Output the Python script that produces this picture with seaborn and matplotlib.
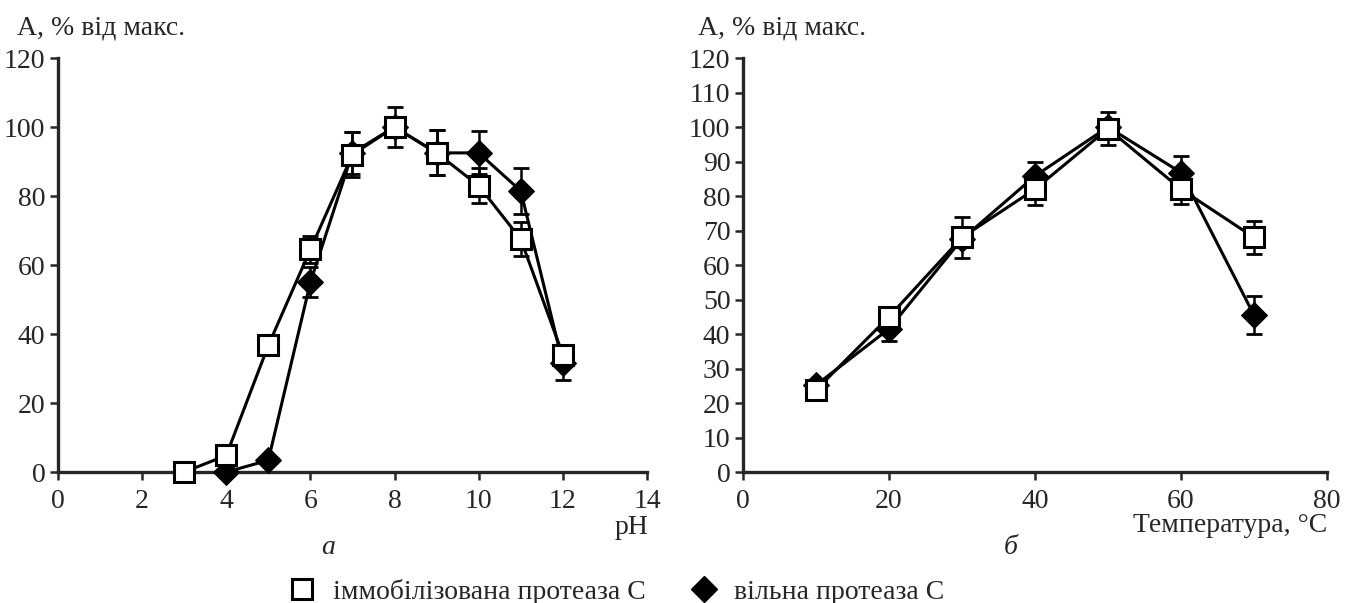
import seaborn as sns
import matplotlib.pyplot as plt
import pandas as pd
from matplotlib.lines import Line2D

##-----Data-----##
ph = [3, 4, 5, 6, 7, 8, 9, 10, 11, 12]
ph_immob = [0, 4.8, 36.7, 64.5, 92, 100, 92.5, 83, 67.5, 34]
ph_immob_err = [0, 0, 0, 4, 6.5, 5.8, 6.5, 5, 5, 0]
ph_free_x = [4, 5, 6, 7, 8, 9, 10, 11, 12]
ph_free = [0, 3.4, 55, 92.5, 100, 92.5, 92.5, 81.5, 31.5]
ph_free_err = [0, 0, 4.3, 6, 0, 6.5, 6.2, 6.7, 4.8]

temp = [10, 20, 30, 40, 50, 60, 70]
t_immob = [23.8, 45, 68, 82, 99.5, 82, 68]
t_immob_err = [0, 0, 6, 4.7, 4.8, 4.4, 4.8]
t_free = [25.2, 41.5, 67.5, 85.8, 100, 86.8, 45.5]
t_free_err = [0, 3.4, 0, 4.2, 0, 4.8, 5.6]

lab_immob = 'іммобілізована протеаза С'
lab_free = 'вільна протеаза С'

##-----Style-----##
sns.set_style("ticks")
plt.rcParams['font.family'] = ['Liberation Serif', 'DejaVu Serif']
plt.rcParams['font.size'] = 20

fig = plt.figure(figsize=(13.45, 6.03), dpi=100)
ax1 = fig.add_axes([0.0431, 0.2172, 0.4379, 0.6866])
ax2 = fig.add_axes([0.5524, 0.2172, 0.4342, 0.6866])


def draw(ax, xi, yi, ei, xf, yf, ef):
    df_f = pd.DataFrame({'x': xf, 'y': yf})
    df_i = pd.DataFrame({'x': xi, 'y': yi})
    sns.lineplot(data=df_f, x='x', y='y', ax=ax, color='black', lw=2.2,
                 marker='D', markersize=13, markerfacecolor='black',
                 markeredgecolor='black', clip_on=False, zorder=3)
    ax.errorbar(xf, yf, yerr=ef, fmt='none', ecolor='black', elinewidth=1.8,
                capsize=5.5, capthick=2, zorder=2, clip_on=False)
    sns.lineplot(data=df_i, x='x', y='y', ax=ax, color='black', lw=2.2,
                 marker='s', markersize=14, markerfacecolor='white',
                 markeredgecolor='black', markeredgewidth=2.2,
                 clip_on=False, zorder=5)
    ax.errorbar(xi, yi, yerr=ei, fmt='none', ecolor='black', elinewidth=1.8,
                capsize=5.5, capthick=2, zorder=4, clip_on=False)
    sns.despine(ax=ax)
    for s in ['left', 'bottom']:
        ax.spines[s].set_linewidth(2.4)
    ax.tick_params(direction='out', length=6, width=1.8, labelsize=20)
    ax.tick_params(axis='x', pad=6)
    ax.tick_params(axis='y', pad=3)
    ax.set_xlabel('')
    ax.set_ylabel('')


draw(ax1, ph, ph_immob, ph_immob_err, ph_free_x, ph_free, ph_free_err)
ax1.set_xlim(0, 14)
ax1.set_ylim(0, 120)
ax1.set_xticks(range(0, 15, 2))
ax1.set_yticks(range(0, 121, 20))

draw(ax2, temp, t_immob, t_immob_err, temp, t_free, t_free_err)
ax2.set_xlim(0, 80)
ax2.set_ylim(0, 120)
ax2.set_xticks(range(0, 81, 20))
ax2.set_yticks(range(0, 121, 10))

##-----Labels-----##
fig.text(17 / 1345, 1 - 28 / 603, 'A, % від макс.', fontsize=20, va='center', ha='left')
fig.text(698 / 1345, 1 - 28 / 603, 'A, % від макс.', fontsize=20, va='center', ha='left')
fig.text(648 / 1345, 1 - 528 / 603, 'pH', fontsize=20, va='center', ha='right')
fig.text(1327 / 1345, 1 - 526 / 603, 'Температура, °С', fontsize=20, va='center', ha='right')
fig.text(328 / 1345, 1 - 548 / 603, 'а', fontsize=20, style='italic', va='center', ha='center')
fig.text(1011 / 1345, 1 - 548 / 603, 'б', fontsize=20, style='italic', va='center', ha='center')

handles = [
    Line2D([], [], marker='s', linestyle='none', markersize=14,
           markerfacecolor='white', markeredgecolor='black', markeredgewidth=2.2),
    Line2D([], [], marker='D', linestyle='none', markersize=13,
           markerfacecolor='black', markeredgecolor='black'),
]
fig.legend(handles, [lab_immob, lab_free], loc='center', ncol=2,
           bbox_to_anchor=(615 / 1345, 1 - 592 / 603), frameon=False,
           fontsize=20, handletextpad=0.5, columnspacing=1.5,
           handlelength=1.2, borderaxespad=0)

fig.savefig('out.png', dpi=100)
